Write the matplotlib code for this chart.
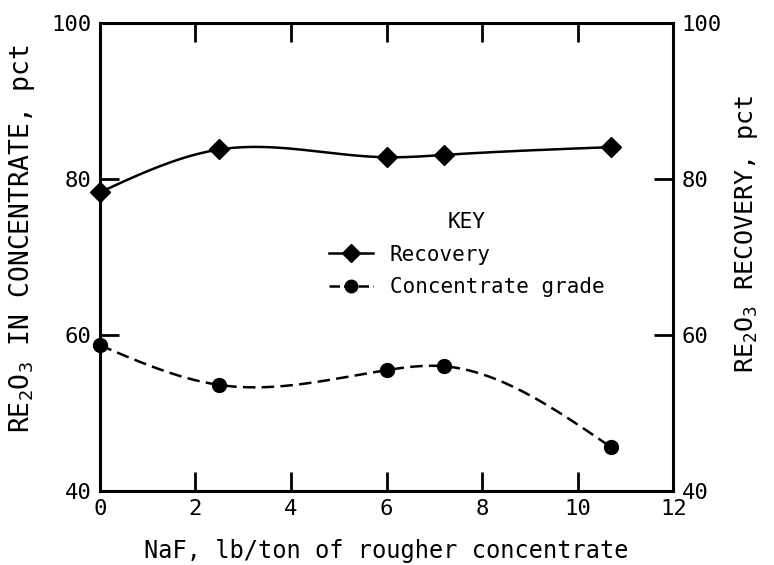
import numpy as np
import matplotlib
matplotlib.use("Agg")
import matplotlib.pyplot as plt

# data
naf = [0, 2.5, 6, 7.2, 10.7]
recovery = [78.3, 83.8, 82.8, 83.1, 84.1]
grade = [58.7, 53.6, 55.5, 56.0, 45.6]
x_ticks = [0, 2, 4, 6, 8, 10, 12]
y_ticks = [40, 60, 80, 100]


def smooth(x, y, n=200):
    """natural cubic spline through the points, for drawing the curve"""
    x = np.asarray(x, float)
    y = np.asarray(y, float)
    k = len(x)
    h = np.diff(x)
    A = np.zeros((k, k))
    r = np.zeros(k)
    A[0, 0] = A[-1, -1] = 1
    for i in range(1, k - 1):
        A[i, i - 1] = h[i - 1]
        A[i, i] = 2 * (h[i - 1] + h[i])
        A[i, i + 1] = h[i]
        r[i] = 3 * ((y[i + 1] - y[i]) / h[i] - (y[i] - y[i - 1]) / h[i - 1])
    c = np.linalg.solve(A, r)
    b = (y[1:] - y[:-1]) / h - h * (2 * c[:-1] + c[1:]) / 3
    d = (c[1:] - c[:-1]) / (3 * h)
    xs = np.linspace(x[0], x[-1], n)
    idx = np.clip(np.searchsorted(x, xs) - 1, 0, k - 2)
    t = xs - x[idx]
    ys = y[idx] + b[idx] * t + c[idx] * t ** 2 + d[idx] * t ** 3
    return xs, ys


# wide lettering like the original stencil text
plt.rcParams['font.family'] = 'DejaVu Sans Mono'
plt.rcParams['mathtext.fontset'] = 'custom'
plt.rcParams['mathtext.rm'] = 'DejaVu Sans Mono'

fig = plt.figure(figsize=(7.74, 5.65), dpi=100)
ax = fig.add_axes([0.129, 0.131, 0.741, 0.828])

xs, ys = smooth(naf, recovery)
ax.plot(xs, ys, color='black', lw=1.8)
ax.plot(naf, recovery, 'D', color='black', ms=10, ls='none', clip_on=False, zorder=3)

xs, ys = smooth(naf, grade)
ax.plot(xs, ys, color='black', lw=1.8, dashes=(5, 2.5))
ax.plot(naf, grade, 'o', color='black', ms=10, ls='none', clip_on=False, zorder=3)

# legend handles
h1, = ax.plot([], [], color='black', lw=1.8, marker='D', ms=9)
h2, = ax.plot([], [], color='black', lw=1.8, marker='o', ms=9, dashes=(4.2, 1.6))
leg = ax.legend([h1, h2], ['Recovery', 'Concentrate grade'], title='KEY',
                loc='center', bbox_to_anchor=(0.64, 0.505), frameon=False,
                fontsize=15, title_fontsize=15, handlelength=2.1,
                handletextpad=0.8, labelspacing=0.6)

ax.set_xlim(0, 12)
ax.set_ylim(40, 100)
ax.set_xticks(x_ticks)
ax.set_yticks(y_ticks)
ax.tick_params(direction='in', length=14, width=2, top=True, right=True,
               labelsize=16, pad=6)
for s in ax.spines.values():
    s.set_linewidth(2.2)

ax.set_xlabel('NaF, lb/ton of rougher concentrate', fontsize=17, labelpad=14)
ax.set_ylabel('RE$_2$O$_3$ IN CONCENTRATE, pct', fontsize=19)
ax.yaxis.set_label_coords(-0.11, 0.54)

ax2 = ax.twinx()
ax2.set_ylim(40, 100)
ax2.set_yticks(y_ticks)
ax2.tick_params(direction='in', length=14, width=2, labelsize=16, pad=6)
ax2.set_ylabel('RE$_2$O$_3$ RECOVERY, pct', fontsize=18)
ax2.yaxis.set_label_coords(1.104, 0.55)

fig.savefig('out.png', dpi=100)
